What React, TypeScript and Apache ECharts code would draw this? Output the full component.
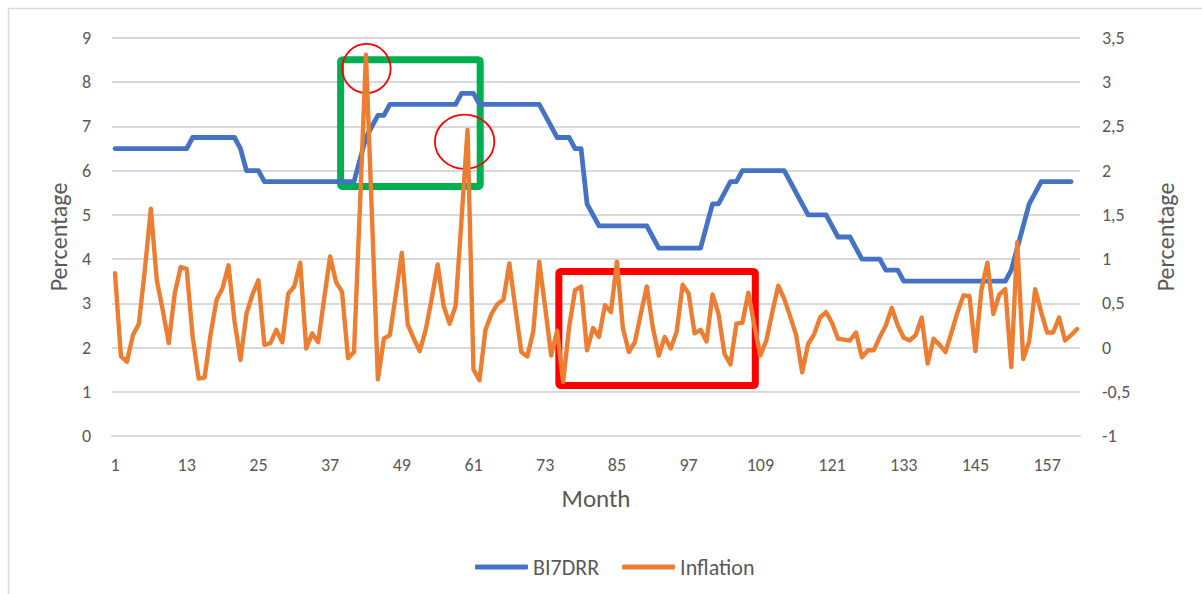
import React, { useEffect, useRef } from "react";
import * as echarts from "echarts";

// Month index along the horizontal axis
const MONTHS: string[] = Array.from({ length: 162 }, (_, k) => String(k + 1));

// BI 7-Day Reverse Repo Rate (%), left axis
const BI7DRR: number[] = [
  6.5, 6.5, 6.5, 6.5, 6.5, 6.5, 6.5, 6.5, 6.5, 6.5,
  6.5, 6.5, 6.5, 6.75, 6.75, 6.75, 6.75, 6.75, 6.75, 6.75,
  6.75, 6.5, 6.0, 6.0, 6.0, 5.75, 5.75, 5.75, 5.75, 5.75,
  5.75, 5.75, 5.75, 5.75, 5.75, 5.75, 5.75, 5.75, 5.75, 5.75,
  5.75, 6.25, 6.75, 7.0, 7.25, 7.25, 7.5, 7.5, 7.5, 7.5,
  7.5, 7.5, 7.5, 7.5, 7.5, 7.5, 7.5, 7.5, 7.75, 7.75,
  7.75, 7.5, 7.5, 7.5, 7.5, 7.5, 7.5, 7.5, 7.5, 7.5,
  7.5, 7.5, 7.25, 7.0, 6.75, 6.75, 6.75, 6.5, 6.5, 5.25,
  5.0, 4.75, 4.75, 4.75, 4.75, 4.75, 4.75, 4.75, 4.75, 4.75,
  4.5, 4.25, 4.25, 4.25, 4.25, 4.25, 4.25, 4.25, 4.25, 4.75,
  5.25, 5.25, 5.5, 5.75, 5.75, 6.0, 6.0, 6.0, 6.0, 6.0,
  6.0, 6.0, 6.0, 5.75, 5.5, 5.25, 5.0, 5.0, 5.0, 5.0,
  4.75, 4.5, 4.5, 4.5, 4.25, 4.0, 4.0, 4.0, 4.0, 3.75,
  3.75, 3.75, 3.5, 3.5, 3.5, 3.5, 3.5, 3.5, 3.5, 3.5,
  3.5, 3.5, 3.5, 3.5, 3.5, 3.5, 3.5, 3.5, 3.5, 3.5,
  3.75, 4.25, 4.75, 5.25, 5.5, 5.75, 5.75, 5.75, 5.75, 5.75,
  5.75,
];

// Monthly inflation (%), right axis
const INFLATION: number[] = [
  0.84, -0.1, -0.16, 0.14, 0.27, 0.88, 1.57, 0.76, 0.42, 0.05,
  0.61, 0.91, 0.89, 0.12, -0.35, -0.34, 0.15, 0.54, 0.67, 0.93,
  0.3, -0.14, 0.38, 0.6, 0.76, 0.03, 0.05, 0.2, 0.06, 0.61,
  0.69, 0.96, -0.01, 0.16, 0.06, 0.55, 1.03, 0.74, 0.63, -0.12,
  -0.05, 1.6, 3.31, 1.5, -0.36, 0.1, 0.14, 0.6, 1.07, 0.26,
  0.1, -0.04, 0.2, 0.55, 0.94, 0.47, 0.27, 0.47, 1.45, 2.46,
  -0.25, -0.37, 0.2, 0.38, 0.49, 0.54, 0.95, 0.45, -0.05, -0.1,
  0.18, 0.97, 0.45, -0.09, 0.19, -0.39, 0.23, 0.65, 0.69, -0.03,
  0.22, 0.12, 0.48, 0.4, 0.97, 0.22, -0.05, 0.06, 0.38, 0.69,
  0.23, -0.09, 0.12, -0.01, 0.18, 0.71, 0.61, 0.16, 0.2, 0.07,
  0.6, 0.38, -0.07, -0.19, 0.27, 0.28, 0.62, 0.25, -0.09, 0.08,
  0.4, 0.7, 0.55, 0.35, 0.14, -0.28, 0.04, 0.15, 0.34, 0.4,
  0.28, 0.1, 0.09, 0.08, 0.17, -0.11, -0.03, -0.03, 0.12, 0.25,
  0.45, 0.25, 0.11, 0.08, 0.14, 0.34, -0.18, 0.1, 0.03, -0.05,
  0.17, 0.4, 0.59, 0.58, -0.04, 0.65, 0.96, 0.38, 0.6, 0.66,
  -0.22, 1.19, -0.13, 0.07, 0.66, 0.4, 0.17, 0.17, 0.34, 0.08,
  0.14, 0.21,
];

// Axis scales
const LEFT_MIN = 0;
const LEFT_MAX = 9;
const LEFT_STEP = 1;
const RIGHT_MIN = -1;
const RIGHT_MAX = 3.5;
const RIGHT_STEP = 0.5;

// Highlight boxes, in (month, left-axis %) coordinates
const BOXES = [
  { color: "#00B050", from: [38.76, 8.51], to: [62.12, 5.64] },
  { color: "#FF0000", from: [75.28, 3.72], to: [108.16, 1.14] },
];

// Rings around the two inflation spikes: centre (month, left-axis %), radii (months, %)
const RINGS = [
  { center: [43.08, 8.31], radius: [4.05, 0.557] },
  { center: [59.51, 6.655], radius: [4.97, 0.614] },
];

const FONT = "Carlito, Calibri, Lato, sans-serif";
const TEXT = "#595959";
const GRID = "#D9D9D9";

export default function App() {
  const ref = useRef<HTMLDivElement>(null);

  useEffect(() => {
    if (!ref.current) return;
    const chart = echarts.init(ref.current, undefined, { renderer: "svg" });

    chart.setOption({
      animation: false,
      backgroundColor: "#FFFFFF",
      textStyle: { fontFamily: FONT },
      grid: { left: 112, right: 122, top: 38, bottom: 158 },
      legend: {
        left: 470,
        top: 551,
        itemWidth: 53,
        itemHeight: 5,
        itemGap: 23,
        icon: "roundRect",
        textStyle: { color: TEXT, fontSize: 22, fontFamily: FONT },
        data: ["BI7DRR", "Inflation"],
      },
      xAxis: {
        type: "category",
        data: MONTHS,
        boundaryGap: true,
        name: "Month",
        nameLocation: "middle",
        nameGap: 50,
        nameTextStyle: { color: TEXT, fontSize: 25, fontFamily: FONT },
        axisLine: { lineStyle: { color: GRID, width: 2 } },
        axisTick: { show: false },
        axisLabel: { interval: 11, color: TEXT, fontSize: 18, margin: 20, fontFamily: FONT },
        splitLine: { show: false },
      },
      yAxis: [
        {
          type: "value",
          position: "left",
          min: LEFT_MIN,
          max: LEFT_MAX,
          interval: LEFT_STEP,
          name: "Percentage",
          nameLocation: "middle",
          nameRotate: 90,
          nameGap: 41,
          nameTextStyle: { color: TEXT, fontSize: 24, fontFamily: FONT },
          axisLine: { show: false },
          axisTick: { show: false },
          axisLabel: { color: TEXT, fontSize: 18, margin: 21, fontFamily: FONT },
          splitLine: { lineStyle: { color: GRID, width: 2 } },
        },
        {
          type: "value",
          position: "right",
          min: RIGHT_MIN,
          max: RIGHT_MAX,
          interval: RIGHT_STEP,
          name: "Percentage",
          nameLocation: "middle",
          nameRotate: 90,
          nameGap: 73,
          nameTextStyle: { color: TEXT, fontSize: 24, fontFamily: FONT },
          axisLine: { show: false },
          axisTick: { show: false },
          axisLabel: {
            color: TEXT,
            fontSize: 18,
            margin: 22,
            fontFamily: FONT,
            formatter: (v: number) => String(v).replace(".", ","),
          },
          splitLine: { show: false },
        },
      ],
      series: [
        {
          name: "BI7DRR",
          type: "line",
          yAxisIndex: 0,
          data: BI7DRR,
          symbol: "none",
          z: 3,
          itemStyle: { color: "#4472C4" },
          lineStyle: { color: "#4472C4", width: 4.8, cap: "round", join: "round" },
        },
        {
          name: "Inflation",
          type: "line",
          yAxisIndex: 1,
          data: INFLATION,
          symbol: "none",
          z: 4,
          itemStyle: { color: "#ED7D31" },
          lineStyle: { color: "#ED7D31", width: 4.4, cap: "round", join: "round" },
        },
      ],
    });

    // Place the highlight shapes through the axes' own scales
    const x0 = chart.convertToPixel({ xAxisIndex: 0 }, 0) as number;
    const x1 = chart.convertToPixel({ xAxisIndex: 0 }, MONTHS.length - 1) as number;
    const step = (x1 - x0) / (MONTHS.length - 1);
    const px = (m: number) => x0 + (m - 1) * step;
    const py = (v: number) => chart.convertToPixel({ yAxisIndex: 0 }, v) as number;

    const graphics: any[] = [
      {
        type: "rect",
        z: 0,
        silent: true,
        shape: { x: 8.5, y: 8.5, width: 1400, height: 800 },
        style: { fill: "none", stroke: GRID, lineWidth: 1.5 },
      },
    ];
    BOXES.forEach((b) => {
      const xa = px(b.from[0]);
      const xb = px(b.to[0]);
      const ya = py(b.from[1]);
      const yb = py(b.to[1]);
      graphics.push({
        type: "rect",
        z: 1,
        silent: true,
        shape: { x: xa, y: ya, width: xb - xa, height: yb - ya, r: 2 },
        style: { fill: "none", stroke: b.color, lineWidth: 7 },
      });
    });
    RINGS.forEach((c) => {
      const cx = px(c.center[0]);
      const cy = py(c.center[1]);
      graphics.push({
        type: "ellipse",
        z: 1,
        silent: true,
        shape: {
          cx,
          cy,
          rx: c.radius[0] * step,
          ry: Math.abs(py(c.center[1] + c.radius[1]) - cy),
        },
        style: { fill: "none", stroke: "#FF0000", lineWidth: 1.8 },
      });
    });
    chart.setOption({ graphic: graphics });

    return () => chart.dispose();
  }, []);

  return (
    <div
      ref={ref}
      style={{ position: "fixed", left: 0, top: 0, width: 1202, height: 594, background: "#FFFFFF" }}
    />
  );
}
